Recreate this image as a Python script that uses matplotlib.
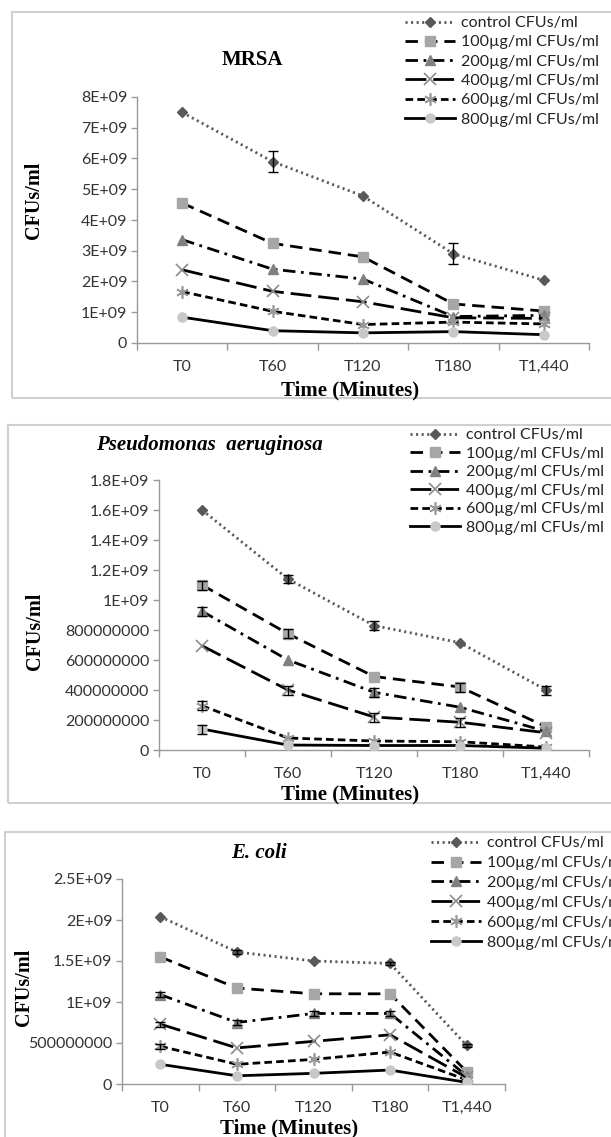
import numpy as np
import matplotlib
matplotlib.use('Agg')
import matplotlib.pyplot as plt
from matplotlib.patches import Rectangle

plt.rcParams['lines.scale_dashes'] = False

W, H = 611, 1137

# Categories
times = ['T0', 'T60', 'T120', 'T180', 'T1,440']
series = ['control CFUs/ml', '100µg/ml CFUs/ml', '200µg/ml CFUs/ml',
          '400µg/ml CFUs/ml', '600µg/ml CFUs/ml', '800µg/ml CFUs/ml']

# MRSA values (x1e9)
mrsa_control = [7.5, 5.9, 4.78, 2.9, 2.04]
mrsa_100 = [4.55, 3.24, 2.8, 1.27, 1.04]
mrsa_200 = [3.36, 2.4, 2.08, 0.86, 0.9]
mrsa_400 = [2.38, 1.68, 1.34, 0.82, 0.8]
mrsa_600 = [1.67, 1.03, 0.6, 0.68, 0.62]
mrsa_800 = [0.84, 0.4, 0.33, 0.37, 0.27]
mrsa_err_control = [0, 0.34, 0, 0.34, 0]

# Pseudomonas values (x1e9)
pa_control = [1.6, 1.14, 0.83, 0.715, 0.4]
pa_100 = [1.1, 0.775, 0.49, 0.42, 0.155]
pa_200 = [0.925, 0.6, 0.385, 0.285, 0.125]
pa_400 = [0.695, 0.4, 0.22, 0.185, 0.115]
pa_600 = [0.295, 0.08, 0.06, 0.055, 0.02]
pa_800 = [0.14, 0.033, 0.03, 0.03, 0.012]
pa_err_control = [0, 0.025, 0.03, 0, 0.03]
pa_err_100 = [0.03, 0.03, 0, 0.03, 0]
pa_err_200 = [0.03, 0, 0.03, 0, 0]
pa_err_400 = [0, 0.03, 0.03, 0.03, 0]
pa_err_600 = [0.03, 0, 0, 0, 0]
pa_err_800 = [0.03, 0, 0, 0, 0]

# E. coli values (x1e9)
ec_control = [2.04, 1.61, 1.5, 1.47, 0.47]
ec_100 = [1.55, 1.17, 1.1, 1.1, 0.15]
ec_200 = [1.09, 0.75, 0.86, 0.86, 0.1]
ec_400 = [0.73, 0.44, 0.52, 0.6, 0.08]
ec_600 = [0.46, 0.24, 0.3, 0.39, 0.05]
ec_800 = [0.24, 0.1, 0.13, 0.17, 0.02]
ec_err_control = [0, 0.02, 0, 0.02, 0.02]
ec_err_200 = [0.03, 0.03, 0.03, 0.03, 0]
ec_err_400 = [0.03, 0, 0, 0, 0]
ec_err_600 = [0.03, 0, 0, 0, 0]

# y tick labels
mrsa_ticks = ['0', '1E+09', '2E+09', '3E+09', '4E+09', '5E+09', '6E+09', '7E+09', '8E+09']
pa_ticks = ['0', '200000000', '400000000', '600000000', '800000000',
            '1E+09', '1.2E+09', '1.4E+09', '1.6E+09', '1.8E+09']
ec_ticks = ['0', '500000000', '1E+09', '1.5E+09', '2E+09', '2.5E+09']

# line styles per series
styles = [
    dict(color='#595959', ls=(0, (1.5, 2.5)), marker='D', mfc='#595959', mec='#595959', ms=5.5),
    dict(color='black', ls=(0, (9, 5)), marker='s', mfc='#a6a6a6', mec='#a6a6a6', ms=6.5),
    dict(color='black', ls=(0, (9, 4, 2, 4)), marker='^', mfc='#808080', mec='#808080', ms=6.5),
    dict(color='black', ls=(0, (15, 5)), marker='x', mfc='#8c8c8c', mec='#8c8c8c', ms=8, mew=1.2),
    dict(color='black', ls=(0, (5.5, 3)), marker=(6, 2, 0), mfc='#999999', mec='#999999', ms=9, mew=1.2),
    dict(color='black', ls='-', marker='o', mfc='#c8c8c8', mec='#c8c8c8', ms=6.5),
]

tick_font = 'Lato'
serif = 'Liberation Serif'

fig = plt.figure(figsize=(W / 100, H / 100), dpi=100)


def px_axes(left, top, right, bottom):
    return fig.add_axes([left / W, 1 - bottom / H, (right - left) / W, (bottom - top) / H])


def draw_panel(box, axbox, values, errs, ticklabels, ymax, title, title_xy, italic,
               ylab_xy, xlab_xy, leg_xy, leg_sp):
    bx0, by0, bx1, by1 = box
    fig.patches.append(Rectangle((bx0 / W, 1 - by1 / H), (bx1 - bx0) / W, (by1 - by0) / H,
                                 transform=fig.transFigure, fill=False,
                                 edgecolor='#d0d0d0', lw=1.5, zorder=0))
    ax = px_axes(*axbox)
    x = np.arange(len(times))
    for vals, err, lab, st in zip(values, errs, series, styles):
        v = np.array(vals) * 1e9
        ax.plot(x, v, lw=2.0, label=lab, **st, zorder=3)
        if err is not None:
            e = np.array(err) * 1e9
            m = e > 0
            ax.errorbar(x[m], v[m], yerr=e[m], fmt='none', ecolor='black',
                        elinewidth=1, capsize=3.5, capthick=1, zorder=4)
    ax.set_xlim(-0.5, len(times) - 0.5)
    ax.set_ylim(0, ymax * 1e9)
    yt = np.linspace(0, ymax, len(ticklabels)) * 1e9
    ax.set_yticks(yt)
    ax.set_yticklabels(ticklabels, fontfamily=tick_font, fontsize=11.5, color='#333333')
    ax.set_xticks(x)
    ax.set_xticklabels(times, fontfamily=tick_font, fontsize=11.5, color='#333333')
    ax.set_xticks(np.arange(-0.5, len(times)), minor=True)
    ax.tick_params(axis='x', which='major', length=0, pad=12)
    ax.tick_params(axis='x', which='minor', length=5, color='#999999', width=1)
    ax.tick_params(axis='y', length=4, color='#999999', width=1, pad=3)
    for s in ['top', 'right']:
        ax.spines[s].set_visible(False)
    for s in ['left', 'bottom']:
        ax.spines[s].set_color('#999999')
        ax.spines[s].set_linewidth(1)
    ax.patch.set_alpha(0)

    fig.text(title_xy[0] / W, 1 - title_xy[1] / H, title, ha='center', va='center',
             fontfamily=serif, fontweight='bold', fontstyle='italic' if italic else 'normal',
             fontsize=15)
    fig.text(ylab_xy[0] / W, 1 - ylab_xy[1] / H, 'CFUs/ml', ha='center', va='center',
             rotation=90, fontfamily=serif, fontweight='bold', fontsize=14.5)
    fig.text(xlab_xy[0] / W, 1 - xlab_xy[1] / H, 'Time (Minutes)', ha='center', va='center',
             fontfamily=serif, fontweight='bold', fontsize=15)
    leg = ax.legend(loc='upper left', bbox_to_anchor=(leg_xy[0] / W, 1 - leg_xy[1] / H),
                    bbox_transform=fig.transFigure, frameon=False, borderpad=0,
                    borderaxespad=0, handlelength=3.1, handletextpad=0.4,
                    labelspacing=leg_sp, prop={'family': tick_font, 'size': 11.5})
    for t in leg.get_texts():
        t.set_color('#222222')
    return ax


draw_panel((12, 12, 640, 398), (137, 97, 589, 343),
           [mrsa_control, mrsa_100, mrsa_200, mrsa_400, mrsa_600, mrsa_800],
           [mrsa_err_control, None, None, None, None, None],
           mrsa_ticks, 8, 'MRSA', (252, 60), False, (34, 200), (350, 390), (405, 16), 0.32)

draw_panel((8, 425, 640, 803), (159, 480, 589, 750),
           [pa_control, pa_100, pa_200, pa_400, pa_600, pa_800],
           [pa_err_control, pa_err_100, pa_err_200, pa_err_400, pa_err_600, pa_err_800],
           pa_ticks, 1.8, 'Pseudomonas  aeruginosa', (209, 445), True, (35, 631), (350, 794),
           (410, 428), 0.27)

draw_panel((5, 832, 640, 1160), (122, 879, 505, 1084),
           [ec_control, ec_100, ec_200, ec_400, ec_600, ec_800],
           [ec_err_control, None, ec_err_200, ec_err_400, ec_err_600, None],
           ec_ticks, 2.5, 'E. coli', (259, 853), True, (24, 987), (289, 1128), (431, 836), 0.36)

fig.savefig('out.png', dpi=100)
